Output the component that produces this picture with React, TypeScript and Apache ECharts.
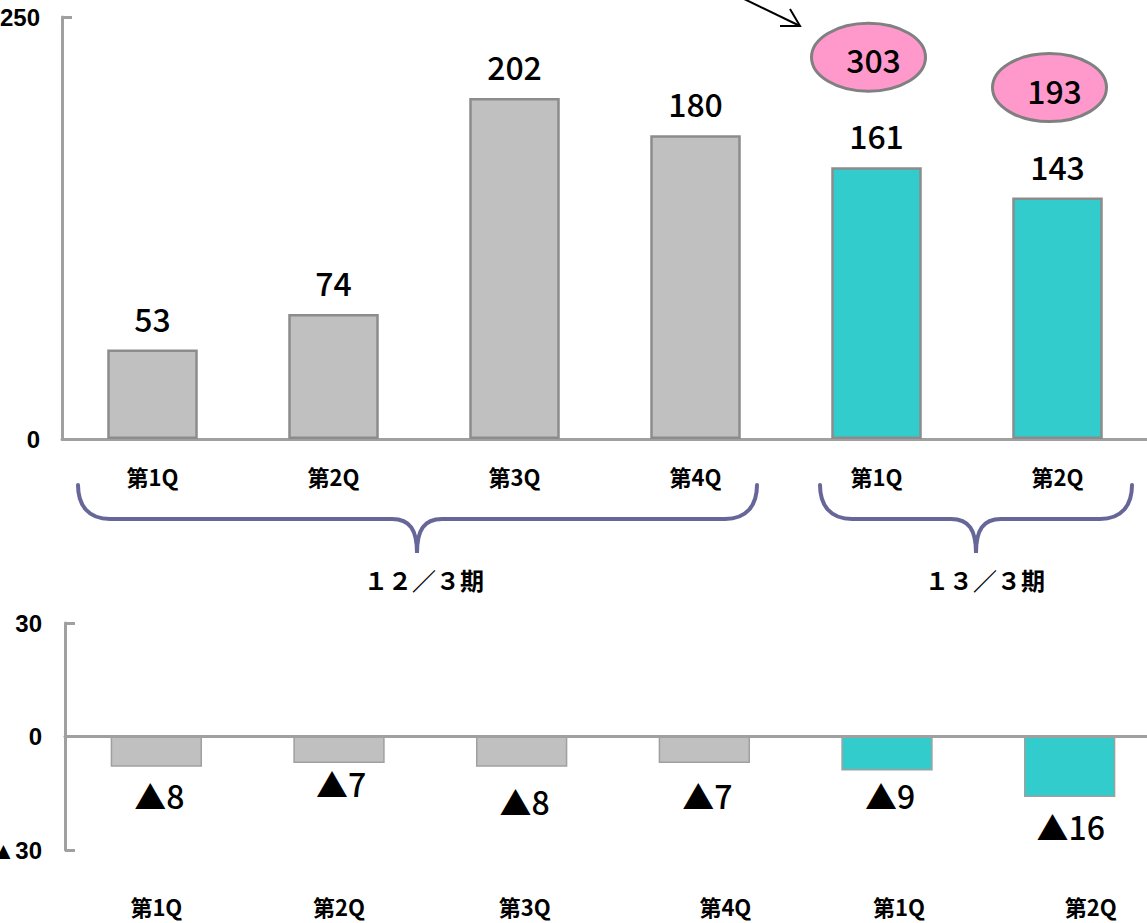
import React, { useEffect, useRef } from "react";
import * as echarts from "echarts";

const categories = ["第1Q", "第2Q", "第3Q", "第4Q", "第1Q", "第2Q"];
const periods = ["１２／３期", "１３／３期"];
const periodIndex = [0, 0, 0, 0, 1, 1];
const topValues = [53, 74, 202, 180, 161, 143];
const cumulativeValues = [null, null, null, null, 303, 193];
const bottomValues = [-8, -7, -8, -7, -9, -16];
const topTicks = [0, 250];
const bottomTicks = [-30, 0, 30];

const periodColors = ["#c0c0c0", "#33cccc"];
const bottomLabelOffsets = [
  [3, 12],
  [2, 4],
  [3, 18],
  [3, 16],
  [3, 8],
  [1, 13],
];
const bottomCategoryPad = [0, 0, 6, 42, 24, 42];

const brace1 =
  "M78,485 C78,505 88,519 110,519 L392,519 C410,519 417,530 417,553 C417,530 424,519 442,519 L725,519 C747,519 757,505 757,485";
const brace2 =
  "M820,485 C820,505 830,519 852,519 L951,519 C969,519 976,530 976,553 C976,530 983,519 1001,519 L1100,519 C1122,519 1132,505 1132,485";
echarts.graphic.registerShape("brace1", echarts.graphic.extendPath(brace1, {}));
echarts.graphic.registerShape("brace2", echarts.graphic.extendPath(brace2, {}));

const CJK = "'Noto Sans CJK JP', 'Noto Sans', sans-serif";
const ARIAL = "'Liberation Sans', Arial, sans-serif";
const axisColor = "#a0a0a0";

export default function App() {
  const ref = useRef<HTMLDivElement>(null);
  useEffect(() => {
    if (!ref.current) return;
    const chart = echarts.init(ref.current, null, { renderer: "svg" });
    const option: any = {
      animation: false,
      backgroundColor: "#ffffff",
      grid: [
        { left: 62, top: 17, height: 422, width: 1086, containLabel: false, outerBoundsMode: "none" },
        { left: 65, top: 623, height: 227, width: 1096, containLabel: false, outerBoundsMode: "none" },
      ],
      xAxis: [
        {
          gridIndex: 0,
          type: "category",
          data: categories,
          axisLine: { lineStyle: { color: axisColor, width: 3 } },
          axisTick: { inside: true, length: 8, lineStyle: { color: axisColor, width: 3 } },
          axisLabel: {
            margin: 26,
            fontSize: 22,
            fontWeight: "bold",
            color: "#000",
            fontFamily: CJK,
          },
        },
        {
          gridIndex: 1,
          type: "category",
          data: categories.map((c, i) => ({
            value: c,
            textStyle: { padding: [0, 0, 0, bottomCategoryPad[i]] },
          })),
          axisLine: { onZero: true, lineStyle: { color: axisColor, width: 3 } },
          axisTick: { inside: true, length: 10, lineStyle: { color: axisColor, width: 2 } },
          axisLabel: {
            margin: 45,
            fontSize: 22,
            fontWeight: "bold",
            color: "#000",
            fontFamily: CJK,
          },
        },
      ],
      yAxis: [
        {
          gridIndex: 0,
          type: "value",
          min: topTicks[0],
          max: topTicks[1],
          interval: topTicks[1] - topTicks[0],
          axisLine: { show: true, lineStyle: { color: axisColor, width: 3 } },
          axisTick: { show: true, inside: true, length: 10, lineStyle: { color: axisColor, width: 3 } },
          splitLine: { show: false },
          axisLabel: {
            margin: 22,
            fontSize: 24,
            fontWeight: "bold",
            color: "#000",
            fontFamily: ARIAL,
          },
        },
        {
          gridIndex: 1,
          type: "value",
          min: bottomTicks[0],
          max: bottomTicks[2],
          interval: bottomTicks[2] - bottomTicks[1],
          axisLine: { show: true, lineStyle: { color: axisColor, width: 3 } },
          axisTick: { show: true, inside: true, length: 10, lineStyle: { color: axisColor, width: 3 } },
          splitLine: { show: false },
          axisLabel: {
            margin: 23,
            fontSize: 24,
            fontWeight: "bold",
            color: "#000",
            fontFamily: ARIAL,
            formatter: (v: number) => (v < 0 ? "▲" + -v : String(v)),
          },
        },
      ],
      series: [
        {
          type: "bar",
          xAxisIndex: 0,
          yAxisIndex: 0,
          barWidth: "50%",
          data: topValues.map((v, i) => ({
            value: v,
            itemStyle: { color: periodColors[periodIndex[i]] },
          })),
          itemStyle: { borderColor: "#8c8c8c", borderWidth: 2.5 },
          label: {
            show: true,
            position: "top",
            distance: 16,
            fontSize: 32,
            fontWeight: 500,
            color: "#000",
            fontFamily: CJK,
          },
        },
        {
          type: "bar",
          xAxisIndex: 1,
          yAxisIndex: 1,
          barWidth: "50%",
          data: bottomValues.map((v, i) => ({
            value: v,
            itemStyle: { color: periodColors[periodIndex[i]] },
            label: { offset: bottomLabelOffsets[i] },
          })),
          itemStyle: { borderColor: "#a0a0a0", borderWidth: 1.5 },
          label: {
            show: true,
            position: "bottom",
            distance: 0,
            fontSize: 32,
            fontWeight: 500,
            color: "#000",
            fontFamily: CJK,
            formatter: (p: any) => "▲" + Math.abs(p.value),
          },
        },
      ],
    };
    chart.setOption(option);

    const graphics: any[] = [];
    cumulativeValues.forEach((cv, i) => {
      if (cv == null) return;
      const [px, py] = chart.convertToPixel({ xAxisIndex: 0, yAxisIndex: 0 } as any, [i, topValues[i]]) as number[];
      const cx = px - 8;
      const cy = py - 110;
      graphics.push({
        type: "ellipse",
        shape: { cx, cy, rx: 57, ry: 34 },
        style: { fill: "#ff99cc", stroke: "#808080", lineWidth: 3 },
        z: 10,
      });
      graphics.push({
        type: "text",
        x: cx + 5,
        y: cy + 2,
        z: 11,
        style: {
          text: String(cv),
          fontSize: 32,
          fontWeight: 500,
          fontFamily: CJK,
          fill: "#000",
          align: "center",
          verticalAlign: "middle",
          textAlign: "center",
          textVerticalAlign: "middle",
        },
      });
    });
    graphics.push({
      type: "line",
      shape: { x1: 740, y1: -3, x2: 800, y2: 26 },
      style: { stroke: "#000", lineWidth: 2 },
    });
    graphics.push({
      type: "polyline",
      shape: { points: [[790, 9], [800, 26], [780, 26]] },
      style: { stroke: "#000", lineWidth: 2, fill: "none" },
    });
    graphics.push({
      type: "brace1",
      style: { stroke: "#666699", lineWidth: 4, fill: "none", lineCap: "round" },
    });
    graphics.push({
      type: "brace2",
      style: { stroke: "#666699", lineWidth: 4, fill: "none", lineCap: "round" },
    });
    const periodCenters = [424, 985];
    periods.forEach((p, k) => {
      graphics.push({
        type: "text",
        x: periodCenters[k],
        y: 579,
        style: {
          text: p,
          fontSize: 24,
          fontWeight: "bold",
          fontFamily: CJK,
          fill: "#000",
          align: "center",
          verticalAlign: "middle",
          textAlign: "center",
          textVerticalAlign: "middle",
        },
      });
    });
    chart.setOption({ graphic: graphics });

    return () => chart.dispose();
  }, []);
  return (
    <div
      ref={ref}
      style={{ position: "absolute", left: 0, top: 0, width: 1147, height: 923 }}
    />
  );
}
